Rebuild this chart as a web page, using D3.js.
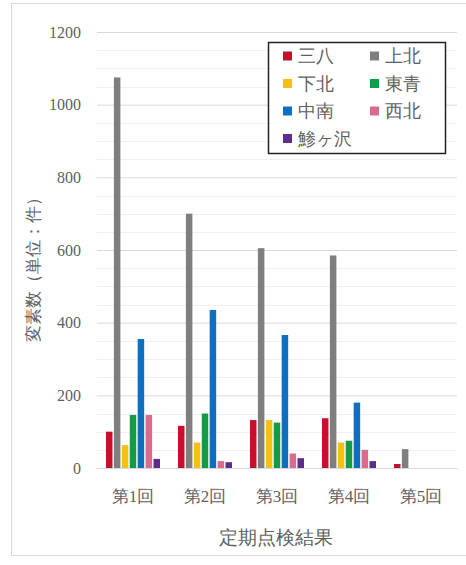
<!DOCTYPE html>
<html>
<head>
<meta charset="utf-8">
<script src="https://cdn.jsdelivr.net/npm/d3@7"></script>
<style>
  html, body { margin: 0; padding: 0; background: #fff; }
  svg { display: block; }
</style>
</head>
<body>
<svg id="chart" width="466" height="565"></svg>
<script>
// Inspection rounds (categories)
const rounds = ["第1回", "第2回", "第3回", "第4回", "第5回"];
// Regions (series)
const regions = ["三八", "上北", "下北", "東青", "中南", "西北", "鯵ヶ沢"];
const regionColors = ["#c8102e", "#7f7f7f", "#f5bf14", "#129c48", "#0e6ebf", "#db6a8f", "#5e2c8a"];
// Counts per region, one value per round
const sanpachi   = [100, 116, 132, 137, 11];
const kamikita   = [1075, 700, 605, 585, 52];
const shimokita  = [63, 70, 132, 70, 0];
const tosei      = [146, 150, 125, 75, 0];
const chunan     = [355, 435, 366, 180, 0];
const seihoku    = [146, 19, 40, 50, 0];
const ajigasawa  = [25, 16, 27, 19, 0];
const seriesValues = [sanpachi, kamikita, shimokita, tosei, chunan, seihoku, ajigasawa];
// Value axis ticks
const yTicks = [0, 200, 400, 600, 800, 1000, 1200];
const yMinorTicks = d3.range(0, 1201, 50);

const yTitle = "変素数（単位：件）";
const xTitle = "定期点検結果";

const FONT = "'Times New Roman', 'Liberation Serif', 'DejaVu Serif', serif";
const TEXT_COLOR = "#606060";

const svg = d3.select("#chart");

// chart frame
svg.append("rect")
  .attr("x", 11.5).attr("y", 3.5)
  .attr("width", 470).attr("height", 552)
  .attr("fill", "#fff").attr("stroke", "#d9d9d9").attr("stroke-width", 1);

const plot = { left: 97, right: 457, top: 32, bottom: 468 };

const y = d3.scaleLinear().domain([0, 1200]).range([plot.bottom, plot.top]);
const x0 = d3.scaleBand().domain(rounds).range([plot.left, plot.right])
  .paddingInner(0.21).paddingOuter(0.105);
const x1 = d3.scaleBand().domain(regions).range([0, x0.bandwidth()]).padding(0.18);
const color = d3.scaleOrdinal().domain(regions).range(regionColors);

// minor gridlines
svg.append("g")
  .selectAll("line").data(yMinorTicks.filter(v => v % 200 !== 0)).join("line")
  .attr("x1", plot.left).attr("x2", plot.right)
  .attr("y1", d => Math.round(y(d)) + 0.5).attr("y2", d => Math.round(y(d)) + 0.5)
  .attr("stroke", "#f0f0f0").attr("stroke-width", 1);

// major gridlines + labels via d3 axis
const yAxis = d3.axisLeft(y).tickValues(yTicks).tickFormat(d3.format("d"))
  .tickSize(-(plot.right - plot.left)).tickPadding(16);
const gy = svg.append("g").attr("transform", `translate(${plot.left},0)`).call(yAxis);
gy.attr("font-family", null);
gy.select(".domain").remove();
gy.selectAll(".tick line").attr("stroke", "#d9d9d9");
gy.selectAll(".tick text")
  .style("font-family", FONT).style("font-size", "16px").style("fill", TEXT_COLOR);

// bars
const groups = svg.append("g").selectAll("g").data(rounds).join("g")
  .attr("transform", d => `translate(${x0(d)},0)`);
groups.selectAll("rect")
  .data((d, i) => regions.map((r, k) => ({ region: r, value: seriesValues[k][i] })))
  .join("rect")
  .attr("x", d => x1(d.region))
  .attr("width", x1.bandwidth())
  .attr("y", d => y(d.value))
  .attr("height", d => y(0) - y(d.value))
  .attr("fill", d => color(d.region));

// category axis
const xAxis = d3.axisBottom(x0).tickSize(0).tickPadding(22);
const gx = svg.append("g").attr("transform", `translate(0,${plot.bottom})`).call(xAxis);
gx.attr("font-family", null);
gx.select(".domain").attr("stroke", "#d9d9d9");
gx.selectAll(".tick text")
  .style("font-family", FONT).style("font-size", "17px").style("fill", TEXT_COLOR);

// axis titles
svg.append("text")
  .attr("x", (plot.left + plot.right) / 2 - 1).attr("y", 544)
  .attr("text-anchor", "middle")
  .style("font-family", FONT).style("font-size", "19px").style("fill", TEXT_COLOR)
  .text(xTitle);

svg.append("text")
  .attr("transform", "translate(39,265) rotate(-90)")
  .attr("text-anchor", "middle")
  .style("font-family", FONT).style("font-size", "17px").style("fill", TEXT_COLOR)
  .text(yTitle);

// legend
const legend = svg.append("g");
legend.append("rect")
  .attr("x", 268.5).attr("y", 42.5).attr("width", 177).attr("height", 111)
  .attr("fill", "#fff").attr("stroke", "#222").attr("stroke-width", 1.5);
const items = legend.selectAll("g.item").data(regions).join("g").attr("class", "item")
  .attr("transform", (d, i) => `translate(${i % 2 === 0 ? 283 : 370},${56 + Math.floor(i / 2) * 27.5})`);
items.append("rect").attr("x", 0).attr("y", -4.5).attr("width", 9).attr("height", 9)
  .attr("fill", d => color(d));
items.append("text").attr("x", 15).attr("y", 0).attr("dy", "0.35em")
  .style("font-family", FONT).style("font-size", "18px").style("fill", TEXT_COLOR)
  .text(d => d);
</script>
</body>
</html>
